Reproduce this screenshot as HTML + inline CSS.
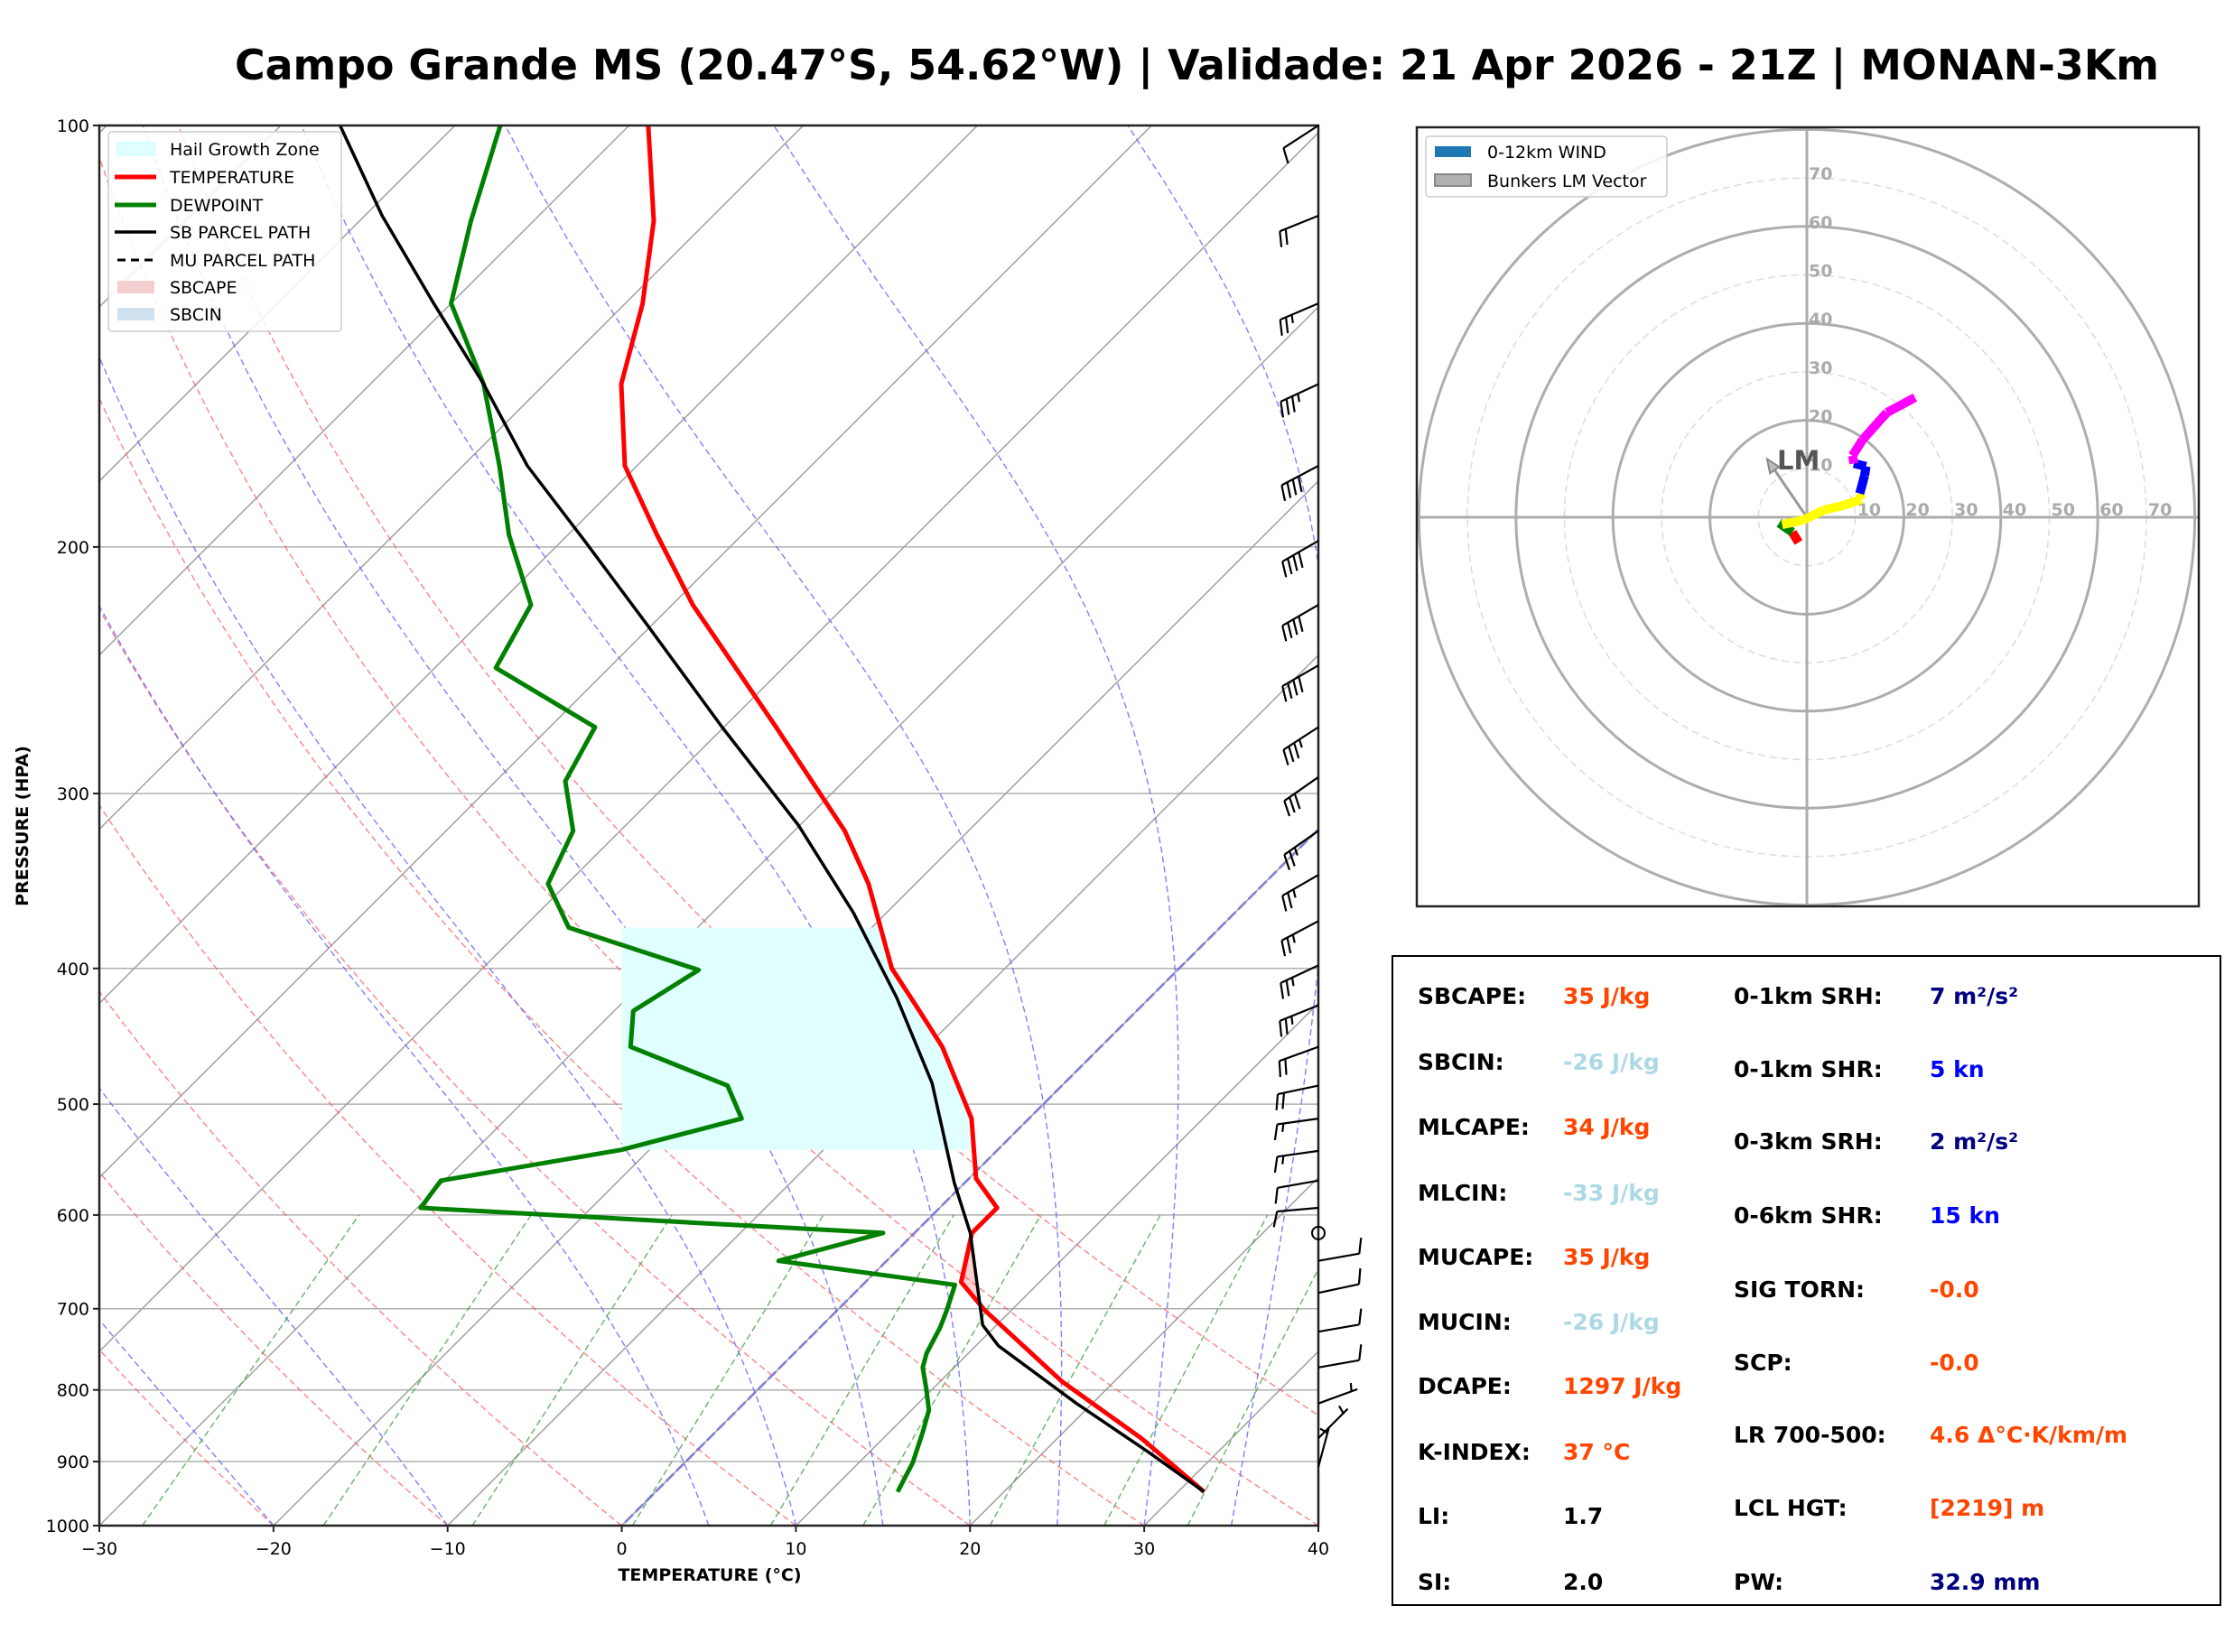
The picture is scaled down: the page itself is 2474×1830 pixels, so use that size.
<!DOCTYPE html>
<html><head><meta charset="utf-8">
<style>
html,body{margin:0;padding:0;background:#fff;}
svg{display:block;font-family:"DejaVu Sans","Liberation Sans",sans-serif;}
</style></head>
<body>
<svg id="fig" xmlns="http://www.w3.org/2000/svg" width="2474" height="1830" viewBox="0 0 2474 1830">
<rect x="0" y="0" width="2474" height="1830" fill="#fff"/>
<text x="260" y="88" font-size="46" font-weight="bold" textLength="2131" lengthAdjust="spacingAndGlyphs">Campo Grande MS (20.47°S, 54.62°W) | Validade: 21 Apr 2026 - 21Z | MONAN-3Km</text>
<defs>
<clipPath id="skewClip"><rect x="110" y="139" width="1350" height="1551"/></clipPath>
<clipPath id="hodoClip"><rect x="1569" y="141" width="866" height="863"/></clipPath>
</defs>
<g id="skewBg" clip-path="url(#skewClip)"></g>
<g id="skewData" clip-path="url(#skewClip)"></g>
<rect x="110" y="139" width="1350" height="1551" fill="none" stroke="#222" stroke-width="2.5"/>
<g id="skewAxes"></g>
<g id="barbs"></g>
<text transform="translate(31,915) rotate(-90)" text-anchor="middle" font-size="19" font-weight="bold">PRESSURE (HPA)</text>
<text x="786" y="1751" text-anchor="middle" font-size="19" font-weight="bold">TEMPERATURE (°C)</text>

<g>
<rect x="120" y="146" width="258" height="221" rx="4" fill="#fff" fill-opacity="0.85" stroke="#ccc" stroke-width="1.5"/>
<rect x="130" y="158" width="41" height="14" fill="#e0ffff" stroke="#bff"/>
<text x="188" y="172" font-size="19">Hail Growth Zone</text>
<line x1="127" y1="196" x2="173" y2="196" stroke="red" stroke-width="5"/>
<text x="188" y="203" font-size="19">TEMPERATURE</text>
<line x1="127" y1="227" x2="173" y2="227" stroke="green" stroke-width="5"/>
<text x="188" y="234" font-size="19">DEWPOINT</text>
<line x1="127" y1="257" x2="173" y2="257" stroke="#000" stroke-width="3.5"/>
<text x="188" y="264" font-size="19">SB PARCEL PATH</text>
<line x1="130" y1="288" x2="173" y2="288" stroke="#000" stroke-width="3" stroke-dasharray="9,6"/>
<text x="188" y="295" font-size="19">MU PARCEL PATH</text>
<rect x="130" y="311" width="41" height="14" fill="#f3cfd0"/>
<text x="188" y="325" font-size="19">SBCAPE</text>
<rect x="130" y="341" width="41" height="14" fill="#cfe1ee"/>
<text x="188" y="355" font-size="19">SBCIN</text>
</g>

<g id="hodoBg" clip-path="url(#hodoClip)"></g>
<g id="hodoData" clip-path="url(#hodoClip)"></g>
<rect x="1569" y="141" width="866" height="863" fill="none" stroke="#222" stroke-width="2.5"/>
<g>
<rect x="1579" y="151" width="267" height="67" rx="4" fill="#fff" fill-opacity="0.85" stroke="#ccc" stroke-width="1.5"/>
<rect x="1589" y="162" width="40" height="12" fill="#1f77b4"/>
<text x="1647" y="175" font-size="19">0-12km WIND</text>
<rect x="1589" y="193" width="40" height="13" fill="#b0b0b0" stroke="#888" stroke-width="2"/>
<text x="1647" y="207" font-size="19">Bunkers LM Vector</text>
</g>

<g font-size="25" font-weight="bold">
<rect x="1542" y="1059" width="917" height="719" fill="#fff" stroke="#000" stroke-width="2"/>
<text x="1570" y="1112">SBCAPE:</text>
<text x="1731" y="1112" fill="#ff4500">35 J/kg</text>
<text x="1570" y="1185">SBCIN:</text>
<text x="1731" y="1185" fill="#add8e6">-26 J/kg</text>
<text x="1570" y="1257">MLCAPE:</text>
<text x="1731" y="1257" fill="#ff4500">34 J/kg</text>
<text x="1570" y="1330">MLCIN:</text>
<text x="1731" y="1330" fill="#add8e6">-33 J/kg</text>
<text x="1570" y="1401">MUCAPE:</text>
<text x="1731" y="1401" fill="#ff4500">35 J/kg</text>
<text x="1570" y="1473">MUCIN:</text>
<text x="1731" y="1473" fill="#add8e6">-26 J/kg</text>
<text x="1570" y="1544">DCAPE:</text>
<text x="1731" y="1544" fill="#ff4500">1297 J/kg</text>
<text x="1570" y="1617">K-INDEX:</text>
<text x="1731" y="1617" fill="#ff4500">37 °C</text>
<text x="1570" y="1688">LI:</text>
<text x="1731" y="1688">1.7</text>
<text x="1570" y="1761">SI:</text>
<text x="1731" y="1761">2.0</text>
<text x="1920" y="1112">0-1km SRH:</text>
<text x="2137" y="1112" fill="#000080">7 m²/s²</text>
<text x="1920" y="1193">0-1km SHR:</text>
<text x="2137" y="1193" fill="#0000ff">5 kn</text>
<text x="1920" y="1273">0-3km SRH:</text>
<text x="2137" y="1273" fill="#000080">2 m²/s²</text>
<text x="1920" y="1355">0-6km SHR:</text>
<text x="2137" y="1355" fill="#0000ff">15 kn</text>
<text x="1920" y="1437">SIG TORN:</text>
<text x="2137" y="1437" fill="#ff4500">-0.0</text>
<text x="1920" y="1518">SCP:</text>
<text x="2137" y="1518" fill="#ff4500">-0.0</text>
<text x="1920" y="1598">LR 700-500:</text>
<text x="2137" y="1598" fill="#ff4500">4.6 Δ°C·K/km/m</text>
<text x="1920" y="1679">LCL HGT:</text>
<text x="2137" y="1679" fill="#ff4500">[2219] m</text>
<text x="1920" y="1761">PW:</text>
<text x="2137" y="1761" fill="#000080">32.9 mm</text>
</g>
</svg>
<script>
// ---- Skew-T data ----
const tempP = [100,117,134,153,175,196,220,269,319,348,400,425,455,512,565,593,618,670,702,789,866,946];
const tempT = [-78.9,-73.1,-69,-65.6,-60.7,-54.9,-48.8,-37,-27.1,-22.7,-16.5,-13,-9.1,-3.3,0.4,3.3,3.3,5.5,8.5,17,24.8,31.5];
const dewP = [100,117,134,153,175,196,220,244,269,294,319,348,374,401,429,455,485,512,539,567,593,618,647,673,702,722,753,771,798,827,857,902,946];
const dewT = [-87.4,-83.6,-80,-73.5,-67.9,-63.4,-58.1,-56.5,-47.4,-46,-42.7,-41.1,-37.4,-27.5,-28.9,-27,-19.2,-16.5,-21.6,-30.2,-29.8,-1.8,-6.2,5.3,6.3,6.9,7.6,8.2,9.6,11,11.9,13.1,13.9];
const parcelP = [100,116,134,153,175,198,228,269,316,365,420,483,569,618,719,744,818,887,946];
const parcelT = [-96.6,-89,-81,-73.5,-66.3,-58.7,-50.1,-40.1,-30.1,-21.9,-14.5,-7.6,-0.6,3.2,9.2,11.3,19.1,26.1,31.5];
const hailTop = 374, hailBottom = 539;
const yTicks = [100,200,300,400,500,600,700,800,900,1000];
const xTicks = [-30,-20,-10,0,10,20,30,40];
// ---- wind barbs ----
const barbP = [100,116,134,153,175,198,220,243,269,292,319,343,370,398,425,455,485,512,540,567,593,618,647,682,727,771,818,866,908];
const barbSpd = [10,20,25,35,40,40,40,40,35,30,25,25,25,25,25,20,20,15,15,10,10,0,10,10,10,10,5,5,5];
const barbDir = [237,248,247,245,242,240,240,240,237,235,235,240,242,245,248,250,258,262,262,260,265,0,80,78,80,80,70,45,15];
// ---- hodograph ----
const hodoU = [-1.7,-3,-5.7,-5.1,-0.8,3.5,7.8,11.2,10.9,11.9,12.2,9.7,9.4,11.5,16.5,22.3];
const hodoV = [-5.2,-3.1,-1.2,-1.5,-0.6,1.5,2.5,3.7,4.9,8.6,10.5,11.1,12.7,16,21.6,24.7];
const hodoSegColor = ['red','green','green','yellow','yellow','yellow','yellow','yellow','blue','blue','blue','magenta','magenta','magenta','magenta'];
const lmU = -8.2, lmV = 12;
const ringVals = [10,20,30,40,50,60,70,80];
const ringLabels = [10,20,30,40,50,60,70];

const NS='http://www.w3.org/2000/svg';
function mk(tag, attrs, parent){const e=document.createElementNS(NS,tag);for(const k in attrs)e.setAttribute(k,attrs[k]);parent.appendChild(e);return e;}
const X0=110,X1=1460,Y0=139,Y1=1690,PXC=(X1-X0)/70;
function yP(p){return Y0+(Y1-Y0)*Math.log10(p/100);}
function xT(T,p){return X0+(T+30)*PXC+(Y1-yP(p));}
function pathTP(ps,ts){return ps.map((p,i)=>(i?'L':'M')+xT(ts[i],p).toFixed(1)+','+yP(p).toFixed(1)).join('');}

const bg=document.getElementById('skewBg');
for(const p of yTicks){
  const l=mk('line',{x1:X0,x2:X1,y1:yP(p),y2:yP(p),stroke:'#b0b0b0','stroke-width':1.5},bg);
  
  
}
for(let T=-110;T<=40;T+=10){
  const l=mk('path',{d:pathTP([100,1000],[T,T]),stroke:'#a0a0a0','stroke-width':1.5,fill:'none'},bg);
  
  
}
const pl=[];for(let p=1000;p>=100;p-=10)pl.push(p);
for(let t0=-30;t0<=50;t0+=10){
  const th=t0+273.15;const ts=pl.map(p=>th*Math.pow(p/1000,0.286)-273.15);
  const l=mk('path',{d:pathTP(pl,ts),stroke:'#ff5050','stroke-opacity':0.7,'stroke-width':1.4,'stroke-dasharray':'7,4',fill:'none'},bg);
  
  
}
function moistLapse(Tk,p){const Rd=287.04,cp=1005.7,Lv=2.501e6,eps=0.622;const Tc=Tk-273.15;const es=6.112*Math.exp(17.67*Tc/(Tc+243.5));const rs=eps*es/(p-es);return (Rd*Tk+Lv*rs)/(cp+Lv*Lv*rs*eps/(Rd*Tk*Tk))/p;}
for(const t0 of [-20,-10,5,10,15,20,25,30,35]){
  let Tk=t0+273.15;const ps=[1000],ts=[t0];
  for(let p=1000;p>100;p-=2){Tk-=moistLapse(Tk,p)*2; if((p-2)%10===0){ps.push(p-2);ts.push(Tk-273.15);}}
  const l=mk('path',{d:pathTP(ps,ts),stroke:'#6060ff','stroke-opacity':0.8,'stroke-width':1.4,'stroke-dasharray':'7,4',fill:'none'},bg);
  
  
}
for(const w of [0.0004,0.001,0.002,0.004,0.007,0.01,0.016,0.024,0.032]){
  const ps=[1000,600];const ts=ps.map(p=>{const e=p*w/(0.622+w);const a=Math.log(e/6.112);return 243.5*a/(17.67-a);});
  const l=mk('path',{d:pathTP(ps,ts),stroke:'#40a040','stroke-opacity':0.8,'stroke-width':1.4,'stroke-dasharray':'7,4',fill:'none'},bg);
  
  
}
const z=mk('path',{d:pathTP([100,1000],[0,0]),stroke:'#6060e0','stroke-opacity':0.6,'stroke-width':3,'stroke-dasharray':'12,4',fill:'none'},bg);



const dg=document.getElementById('skewData');
function interp(ps,ts,p){for(let i=0;i<ps.length-1;i++){if(p>=ps[i]&&p<=ps[i+1]){const f=Math.log(p/ps[i])/Math.log(ps[i+1]/ps[i]);return ts[i]+f*(ts[i+1]-ts[i]);}}return ts[ts.length-1];}
{
  const xl=xT(0,1000);const pts=[];
  for(let p=hailTop;p<=hailBottom;p+=3)pts.push([xT(interp(tempP,tempT,p),p),yP(p)]);
  pts.push([xT(interp(tempP,tempT,hailBottom),hailBottom),yP(hailBottom)]);
  let d='M'+xl+','+yP(hailTop)+pts.map(q=>'L'+q[0].toFixed(1)+','+q[1].toFixed(1)).join('')+'L'+xl+','+yP(hailBottom)+'Z';
  const h=mk('path',{d:d,fill:'#e0ffff',stroke:'none'},dg);
  
  
}
{
  const up=[],lo=[];
  for(let p=600;p<=720;p+=2){const tp=interp(parcelP,parcelT,p),te=interp(tempP,tempT,p);if(tp>te){up.push([xT(tp,p),yP(p)]);lo.push([xT(te,p),yP(p)]);}}
  if(up.length){const pts=up.concat(lo.reverse());
  const c=mk('path',{d:'M'+pts.map(q=>q[0].toFixed(1)+','+q[1].toFixed(1)).join('L')+'Z',fill:'red','fill-opacity':0.18},dg);
  
  }
}
const tl=mk('path',{d:pathTP(tempP,tempT),stroke:'red','stroke-width':5,fill:'none','stroke-linejoin':'round'},dg);


const dl=mk('path',{d:pathTP(dewP,dewT),stroke:'green','stroke-width':5,fill:'none','stroke-linejoin':'round'},dg);


const pl2=mk('path',{d:pathTP(parcelP,parcelT),stroke:'#000','stroke-width':3.5,fill:'none','stroke-linejoin':'round'},dg);



const ax=document.getElementById('skewAxes');
for(const p of yTicks){
  const t=mk('line',{x1:X0-7,x2:X0,y1:yP(p),y2:yP(p),stroke:'#222','stroke-width':2},ax);
  
  
  const l=mk('text',{x:X0-11,y:yP(p)+7,'text-anchor':'end','font-size':19},ax);
  l.textContent=p;
  
  
}
for(const T of xTicks){
  const x=X0+(T+30)*PXC;
  const t=mk('line',{x1:x,x2:x,y1:Y1,y2:Y1+7,stroke:'#222','stroke-width':2},ax);
  
  
  const l=mk('text',{x:x,y:Y1+32,'text-anchor':'middle','font-size':19},ax);
  l.textContent=(T<0?'\u2212'+(-T):T);
  
  
}

const bgp=document.getElementById('barbs');
for(let i=0;i<barbP.length;i++){
  const bx=X1,by=yP(barbP[i]),s=barbSpd[i],a=barbDir[i]*Math.PI/180;
  if(s<2.5){
    const c=mk('circle',{cx:bx,cy:by,r:7,fill:'none',stroke:'#000','stroke-width':2},bgp);
    
    
    continue;
  }
  const dx=Math.sin(a),dy=-Math.cos(a),L=46;
  const nx=dy,ny=-dx;
  const tx=bx+dx*L,ty=by+dy*L;
  let d='M'+bx+','+by.toFixed(1)+'L'+tx.toFixed(1)+','+ty.toFixed(1);
  const r=Math.round(s/5)*5;let full=Math.floor(r/10),half=(r%10)>=5?1:0;
  let pos=0;
  for(let k=0;k<full;k++){const px=tx-dx*pos,py=ty-dy*pos;d+='M'+px.toFixed(1)+','+py.toFixed(1)+'L'+(px+nx*17+dx*5).toFixed(1)+','+(py+ny*17+dy*5).toFixed(1);pos+=7;}
  if(half){if(full===0)pos=7;const px=tx-dx*pos,py=ty-dy*pos;d+='M'+px.toFixed(1)+','+py.toFixed(1)+'L'+(px+nx*9+dx*2.5).toFixed(1)+','+(py+ny*9+dy*2.5).toFixed(1);}
  const b=mk('path',{d:d,stroke:'#000','stroke-width':2.2,fill:'none'},bgp);
  
  
}

const HX=2001,HY=573,HK=5.37;
function hx(u){return HX+u*HK;} function hy(v){return HY-v*HK;}
const hb=document.getElementById('hodoBg');
for(const r of ringVals){
  const solid=(r%20===0);
  const c=mk('circle',{cx:HX,cy:HY,r:r*HK,fill:'none',stroke:solid?'#adadad':'#dcdcdc','stroke-width':solid?3:1.5,'stroke-dasharray':solid?'none':'8,5'},hb);
  
  
}
const ha=mk('line',{x1:1569,x2:2435,y1:HY,y2:HY,stroke:'#adadad','stroke-width':3},hb);


const hv=mk('line',{x1:HX,x2:HX,y1:141,y2:1004,stroke:'#adadad','stroke-width':3},hb);


for(const r of ringLabels){
  const t1=mk('text',{x:hx(r)+2,y:HY-2,'font-size':19,'font-weight':'bold',fill:'#aaa'},hb);
  t1.textContent=r;
  
  
  const t2=mk('text',{x:HX+2,y:hy(r)+2,'font-size':19,'font-weight':'bold',fill:'#aaa'},hb);
  t2.textContent=r;
  
  
}
const hd=document.getElementById('hodoData');
const lm=mk('line',{x1:HX,y1:HY,x2:hx(lmU),y2:hy(lmV),stroke:'#999','stroke-width':3},hd);


{
  const ex=hx(lmU),ey=hy(lmV),ang=Math.atan2(ey-HY,ex-HX);
  const p1=[ex-Math.cos(ang-0.4)*16,ey-Math.sin(ang-0.4)*16],p2=[ex-Math.cos(ang+0.4)*16,ey-Math.sin(ang+0.4)*16];
  const ah=mk('path',{d:'M'+ex+','+ey+'L'+p1.join(',')+'L'+p2.join(',')+'Z',fill:'#bbb',stroke:'#888','stroke-width':2},hd);
  
  
}
for(let i=0;i<hodoSegColor.length;i++){
  const s=mk('line',{x1:hx(hodoU[i]),y1:hy(hodoV[i]),x2:hx(hodoU[i+1]),y2:hy(hodoV[i+1]),stroke:hodoSegColor[i],'stroke-width':10,'stroke-linecap':'butt'},hd);
  
  
}
const lmt=mk('text',{x:1968,y:520,'font-size':29,'font-weight':'bold',fill:'#555'},hd);
lmt.textContent='LM';


</script>
</body></html>
